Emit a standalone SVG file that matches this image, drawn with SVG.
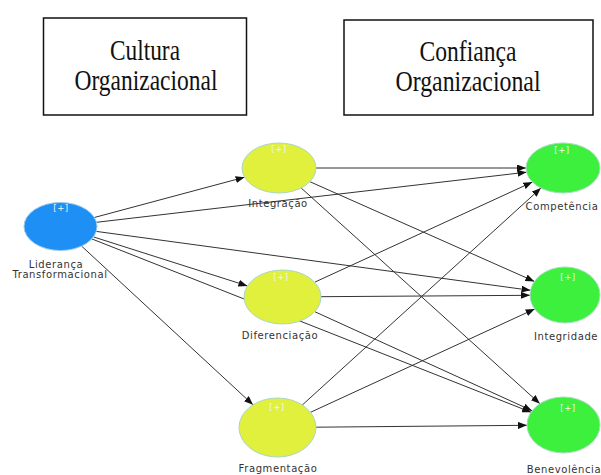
<svg xmlns="http://www.w3.org/2000/svg" width="601" height="475" viewBox="0 0 601 475">
<style>
.box{fill:#fff;stroke:#111;stroke-width:1.5}
.title{font-family:"Liberation Serif","Times New Roman",serif;font-size:30px;fill:#111;text-anchor:middle}
.edge{stroke:#333;stroke-width:1;fill:none;marker-end:url(#arr)}
.lv{fill:#1e8ff5;stroke:#9cc9e8;stroke-width:1}
.cu{fill:#e0f03c;stroke:#a9d6c9;stroke-width:1}
.co{fill:#3df03d;stroke:#a6dcc0;stroke-width:1}
.plus{font-family:"DejaVu Sans",sans-serif;font-size:8.5px;fill:#f4f4f4;text-anchor:middle;letter-spacing:0.5px}
.lbl{font-family:"DejaVu Sans",sans-serif;font-size:10px;fill:#333;text-anchor:middle;letter-spacing:0.6px}
</style>
<defs>
<marker id="arr" markerUnits="userSpaceOnUse" markerWidth="9" markerHeight="7" refX="9" refY="3.5" orient="auto">
<path d="M0,0 L9,3.5 L0,7 z" fill="#111"/>
</marker>
</defs>
<rect width="601" height="475" fill="#fff"/>
<g id="box-cultura">
<rect class="box" x="43.5" y="18" width="203" height="97"/>
<text class="title" x="145" y="60" textLength="70" lengthAdjust="spacingAndGlyphs">Cultura</text>
<text class="title" x="146" y="90" textLength="143" lengthAdjust="spacingAndGlyphs">Organizacional</text>
</g>
<g id="box-confianca">
<rect class="box" x="344" y="20" width="249" height="95"/>
<text class="title" x="468" y="61" textLength="97" lengthAdjust="spacingAndGlyphs">Confiança</text>
<text class="title" x="468" y="91" textLength="145" lengthAdjust="spacingAndGlyphs">Organizacional</text>
</g>
<g id="connectors">
<line class="edge" x1="94.3" y1="217.5" x2="244.6" y2="177.2"/>
<line class="edge" x1="93.4" y1="236.9" x2="247.4" y2="285.9"/>
<line class="edge" x1="81.6" y1="246.1" x2="253.0" y2="404.8"/>
<line class="edge" x1="96.4" y1="222.3" x2="526.5" y2="172.2"/>
<line class="edge" x1="96.3" y1="231.4" x2="530.5" y2="290.3"/>
<line class="edge" x1="91.8" y1="238.9" x2="531.0" y2="412.2"/>
<line class="edge" x1="316" y1="168" x2="526" y2="168"/>
<line class="edge" x1="309.9" y1="181.7" x2="534.4" y2="281.4"/>
<line class="edge" x1="301.2" y1="188.0" x2="539.9" y2="403.7"/>
<line class="edge" x1="314.7" y1="282.2" x2="532.4" y2="182.1"/>
<line class="edge" x1="321" y1="296.7" x2="530" y2="295.3"/>
<line class="edge" x1="314.8" y1="311.7" x2="532.1" y2="410.7"/>
<line class="edge" x1="302.3" y1="405.0" x2="540.9" y2="188.1"/>
<line class="edge" x1="310.5" y1="412.3" x2="534.7" y2="309.0"/>
<line class="edge" x1="316" y1="427.2" x2="527" y2="425.3"/>
</g>
<g id="node-lideranca">
<ellipse class="lv" cx="60.5" cy="226.5" rx="36.5" ry="24"/>
<text class="plus" x="61" y="211">[+]</text>
<text class="lbl" x="56" y="268">Liderança</text>
<text class="lbl" x="60" y="278">Transformacional</text>
</g>
<g id="node-integracao">
<ellipse class="cu" cx="279" cy="168" rx="37" ry="25"/>
<text class="plus" x="279" y="152">[+]</text>
<text class="lbl" x="278" y="207">Integração</text>
</g>
<g id="node-diferenciacao">
<ellipse class="cu" cx="282.5" cy="297" rx="38.5" ry="27"/>
<text class="plus" x="281" y="280">[+]</text>
<text class="lbl" x="280" y="339">Diferenciação</text>
</g>
<g id="node-fragmentacao">
<ellipse class="cu" cx="277.5" cy="427.5" rx="38.5" ry="29.5"/>
<text class="plus" x="277" y="410">[+]</text>
<text class="lbl" x="278" y="472">Fragmentação</text>
</g>
<g id="node-competencia">
<ellipse class="co" cx="563" cy="168" rx="37" ry="25"/>
<text class="plus" x="562" y="153">[+]</text>
<text class="lbl" x="562" y="210">Competência</text>
</g>
<g id="node-integridade">
<ellipse class="co" cx="565" cy="295" rx="35" ry="28"/>
<text class="plus" x="568" y="280">[+]</text>
<text class="lbl" x="566" y="340">Integridade</text>
</g>
<g id="node-benevolencia">
<ellipse class="co" cx="563.5" cy="425" rx="36.5" ry="28"/>
<text class="plus" x="568" y="411">[+]</text>
<text class="lbl" x="564" y="473">Benevolência</text>
</g>
</svg>
